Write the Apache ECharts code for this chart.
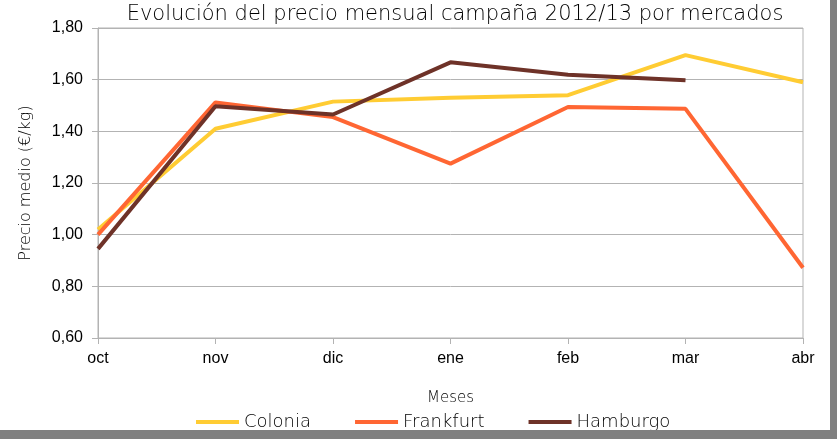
<!DOCTYPE html>
<html>
<head>
<meta charset="utf-8">
<script src="https://cdn.jsdelivr.net/npm/echarts@6/dist/echarts.min.js"></script>
<style>
  body { margin: 0; }
  #wrap { width: 837px; height: 439px; background: #808080; position: relative; }
  #main { width: 830px; height: 430px; background: #ffffff; position: absolute; left: 0; top: 0; }
</style>
</head>
<body>
<div id="wrap"><div id="main"></div></div>
<script>
var meses = ['oct', 'nov', 'dic', 'ene', 'feb', 'mar', 'abr'];
var colonia = [1.02, 1.41, 1.515, 1.53, 1.54, 1.695, 1.59];
var frankfurt = [1.00, 1.512, 1.455, 1.275, 1.494, 1.487, 0.872];
var hamburgo = [0.945, 1.497, 1.465, 1.667, 1.619, 1.598, null];

var gothic = 'DejaVu Sans';
var chart = echarts.init(document.getElementById('main'));

function serie(name, data, color) {
  return {
    name: name,
    type: 'line',
    data: data,
    symbol: 'none',
    lineStyle: { width: 4, color: color },
    itemStyle: { color: color }
  };
}

var option = {
  animation: false,
  backgroundColor: '#ffffff',
  title: {
    text: 'Evolución del precio mensual campaña 2012/13 por mercados',
    left: 450,
    textAlign: 'center',
    top: -1,
    textStyle: { fontFamily: gothic, fontWeight: 200, fontSize: 21, color: '#000' }
  },
  legend: {
    top: 408,
    left: 191,
    itemWidth: 43,
    itemHeight: 4,
    itemGap: 44,
    icon: 'rect',
    textStyle: { fontFamily: gothic, fontWeight: 200, fontSize: 18, color: '#000' },
    data: ['Colonia', 'Frankfurt', 'Hamburgo']
  },
  grid: {
    left: 98, right: 27, top: 28, bottom: 92,
    show: true, borderColor: '#b3b3b3', borderWidth: 1
  },
  xAxis: {
    type: 'category',
    data: meses,
    boundaryGap: false,
    name: 'Meses',
    nameLocation: 'middle',
    nameGap: 53,
    nameTextStyle: { fontFamily: gothic, fontWeight: 200, fontSize: 15, color: '#000' },
    axisLine: { lineStyle: { color: '#b3b3b3' } },
    axisTick: { show: true, length: 6, lineStyle: { color: '#b3b3b3' } },
    axisLabel: { fontFamily: 'Liberation Sans', fontSize: 16, color: '#000', margin: 13 }
  },
  yAxis: {
    type: 'value',
    min: 0.6, max: 1.8, interval: 0.2,
    name: 'Precio medio (€/kg)',
    nameLocation: 'middle',
    nameGap: 64,
    nameTextStyle: { fontFamily: gothic, fontWeight: 200, fontSize: 16, color: '#000' },
    axisLine: { show: true, lineStyle: { color: '#b3b3b3' } },
    axisTick: { show: true, length: 6, lineStyle: { color: '#b3b3b3' } },
    splitLine: { lineStyle: { color: '#b3b3b3' } },
    axisLabel: {
      fontFamily: 'Liberation Sans', fontSize: 16, color: '#000', margin: 15,
      formatter: function (v) { return v.toFixed(2).replace('.', ','); }
    }
  },
  series: [
    serie('Colonia', colonia, '#ffcc33'),
    serie('Frankfurt', frankfurt, '#ff6633'),
    serie('Hamburgo', hamburgo, '#6e3228')
  ]
};
chart.setOption(option);
</script>
</body>
</html>
